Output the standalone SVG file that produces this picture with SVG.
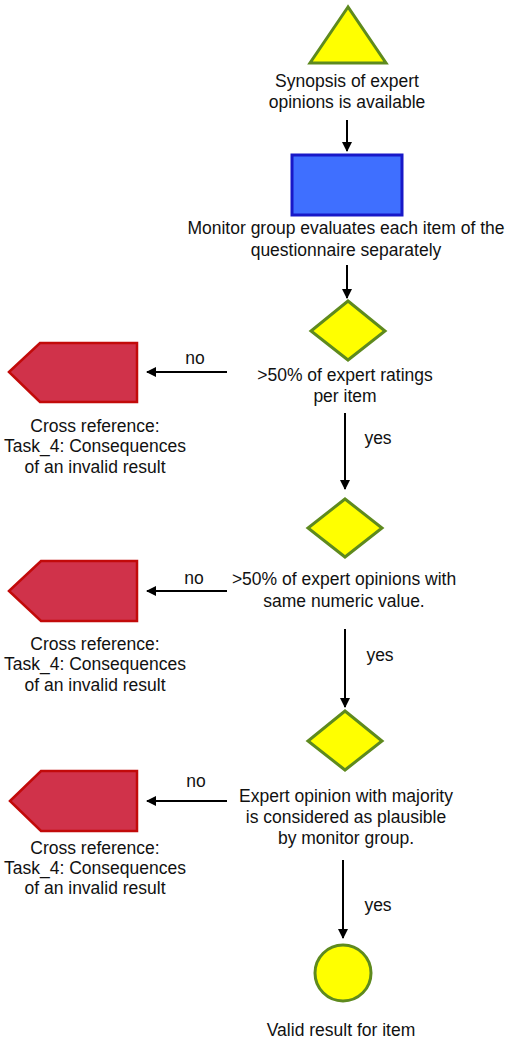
<svg xmlns="http://www.w3.org/2000/svg" width="510" height="1044" viewBox="0 0 510 1044">
<defs>
<style>
text{font-family:"Liberation Sans",Arial,sans-serif;font-size:17.5px;fill:#111;text-anchor:middle}
.y{fill:#ffff00;stroke:#5e8a1e;stroke-width:3}
.b{fill:#3f6fff;stroke:#1818c8;stroke-width:3}
.r{fill:#d0324a;stroke:#c20a0a;stroke-width:2.5}
.c{stroke:#000;stroke-width:2;fill:none;marker-end:url(#ah)}
</style>
<marker id="ah" viewBox="0 0 10 10" refX="9" refY="5" markerWidth="5" markerHeight="5" markerUnits="strokeWidth" orient="auto">
<path d="M0,0 L10,5 L0,10 Z" fill="#000"/>
</marker>
</defs>
<rect width="510" height="1044" fill="#fff"/>
<g id="connectors">
<line class="c" x1="347" y1="120" x2="347" y2="151"/>
<line class="c" x1="347" y1="265" x2="347" y2="298"/>
<line class="c" x1="227" y1="372" x2="147" y2="372"/>
<line class="c" x1="345" y1="413" x2="345" y2="489"/>
<line class="c" x1="227" y1="591" x2="147" y2="591"/>
<line class="c" x1="345" y1="629" x2="345" y2="707"/>
<line class="c" x1="227" y1="801" x2="147" y2="801"/>
<line class="c" x1="343" y1="860" x2="343" y2="938"/>
<text x="195" y="364">no</text>
<text x="378" y="444">yes</text>
<text x="194" y="584">no</text>
<text x="380" y="661">yes</text>
<text x="196" y="787">no</text>
<text x="378" y="911">yes</text>
</g>
<g id="start">
<polygon class="y" points="348,7 310,63 386,63"/>
<text x="347" y="87">Synopsis of expert</text>
<text x="347" y="108">opinions is available</text>
</g>
<g id="evaluate">
<rect class="b" x="292" y="155" width="110" height="60"/>
<text x="346" y="234">Monitor group evaluates each item of the</text>
<text x="346" y="256">questionnaire separately</text>
</g>
<g id="decision1">
<polygon class="y" points="348,301 385,331 348,360 311,331"/>
<text x="345" y="381">&gt;50% of expert ratings</text>
<text x="345" y="402">per item</text>
</g>
<g id="xref1">
<polygon class="r" points="9,372 40,343 137,343 137,402 40,402"/>
<text x="95" y="432">Cross reference:</text>
<text x="95" y="452">Task_4: Consequences</text>
<text x="95" y="473">of an invalid result</text>
</g>
<g id="decision2">
<polygon class="y" points="345,499 382,528 345,557 308,528"/>
<text x="344" y="585">&gt;50% of expert opinions with</text>
<text x="344" y="607">same numeric value.</text>
</g>
<g id="xref2">
<polygon class="r" points="9,591 41,561 137,561 137,621 41,621"/>
<text x="95" y="650">Cross reference:</text>
<text x="95" y="670">Task_4: Consequences</text>
<text x="95" y="691">of an invalid result</text>
</g>
<g id="decision3">
<polygon class="y" points="345,711 382,741 345,770 308,741"/>
<text x="346" y="802">Expert opinion with majority</text>
<text x="346" y="823">is considered as plausible</text>
<text x="346" y="844">by monitor group.</text>
</g>
<g id="xref3">
<polygon class="r" points="10,801 41,771 137,771 137,831 41,831"/>
<text x="95" y="854">Cross reference:</text>
<text x="95" y="874">Task_4: Consequences</text>
<text x="95" y="894">of an invalid result</text>
</g>
<g id="end">
<circle class="y" cx="343" cy="973" r="28"/>
<text x="341" y="1036">Valid result for item</text>
</g>
</svg>
